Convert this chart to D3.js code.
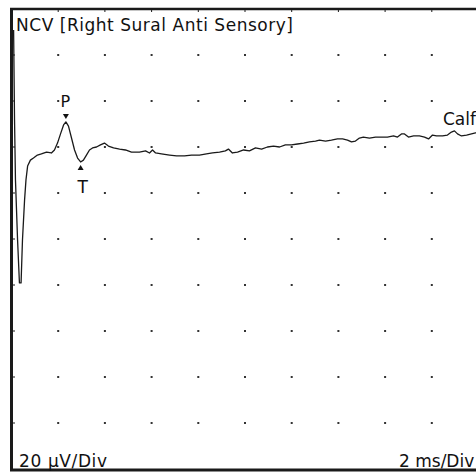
<!DOCTYPE html>
<html>
<head>
<meta charset="utf-8">
<script src="https://cdn.jsdelivr.net/npm/d3@7"></script>
<style>
  html, body { margin: 0; padding: 0; background: #fff; }
  svg { display: block; }
  text { font-family: "DejaVu Sans", Verdana, sans-serif; fill: #111; }
</style>
</head>
<body>
<svg id="chart" width="476" height="472"></svg>
<script>
// ---- data (time in ms, amplitude in µV) ----
const title = "NCV [Right Sural Anti Sensory]";
const traceName = "Calf";
const yScaleLabel = "20 µV/Div";
const xScaleLabel = "2 ms/Div";

const xGridTicks = [2, 4, 6, 8, 10, 12, 14, 16, 18];
const yGridTicks = [-80, -60, -40, -20, 0, 20, 40, 60, 80];

const timeMs = [0.09,0.13,0.17,0.26,0.34,0.41,0.47,0.56,0.62,0.69,
  0.81,0.94,1.11,1.28,1.50,1.71,1.84,1.97,2.10,2.23,
  2.33,2.44,2.57,2.70,2.83,2.96,3.08,3.21,3.34,3.47,
  3.64,3.81,3.98,4.15,4.37,4.63,4.88,5.14,5.48,5.74,
  5.91,6.04,6.17,6.42,6.77,7.07,7.41,7.71,8.05,8.35,
  8.61,8.91,9.16,9.29,9.46,9.68,9.94,10.19,10.45,10.71,
  10.96,11.22,11.48,11.73,11.99,12.25,12.51,12.76,13.02,13.19,
  13.45,13.70,13.96,14.18,14.39,14.56,14.73,14.90,15.07,15.33,
  15.59,15.85,16.10,16.36,16.53,16.70,16.83,17.00,17.22,17.47,
  17.69,17.86,18.03,18.20,18.46,18.67,18.84,18.97,19.10,19.27,
  19.49,19.70,19.87,20.0];

const amplitudeUv = [90.9,51.7,25.7,-0.4,-19.1,-19.1,-0.4,17.0,25.7,31.7,
  34.3,35.2,36.5,37.0,37.8,37.4,38.7,41.7,45.7,49.6,
  50.9,49.1,43.9,38.7,35.2,33.5,34.3,36.5,38.7,39.6,
  40.0,40.9,41.7,40.4,39.6,39.1,38.7,37.8,37.8,38.3,
  37.4,38.7,37.4,37.0,36.5,36.1,36.1,36.5,36.5,37.0,
  37.4,37.8,38.3,39.1,37.4,37.8,38.7,38.3,39.6,39.1,
  40.0,40.4,40.0,40.9,40.9,41.3,41.7,42.2,42.6,43.0,
  42.6,43.0,43.5,43.5,43.0,42.2,42.6,43.9,44.3,43.9,
  44.3,44.3,44.3,44.8,44.3,45.7,45.7,44.3,44.8,44.8,
  44.3,43.5,45.2,44.8,44.8,45.2,46.5,47.0,45.7,44.8,
  45.2,45.7,46.1,46.1];

const markerNames = ["P", "T"];
const markerTimes = [2.33, 2.96];
const markerAmps = [50.9, 33.5];

// ---- layout ----
const svg = d3.select("#chart");
const x = d3.scaleLinear().domain([0, 20]).range([11.5, 478.5]);
const y = d3.scaleLinear().domain([-100, 100]).range([469, 9]);

// grid dots
const dots = [];
xGridTicks.forEach(t => yGridTicks.forEach(v => dots.push([t, v])));
svg.append("g").selectAll("rect").data(dots).join("rect")
  .attr("x", d => x(d[0]) - 1).attr("y", d => y(d[1]) - 1)
  .attr("width", 2).attr("height", 2).attr("fill", "#333");

// frame
const frame = svg.append("g").attr("stroke", "#1a1a1a").attr("fill", "none");
frame.append("line").attr("x1", x(0)).attr("x2", x(0)).attr("y1", y(100) - 1).attr("y2", y(-100) + 1.5).attr("stroke-width", 3);
frame.append("line").attr("x1", x(0) - 1.5).attr("x2", 476).attr("y1", y(100)).attr("y2", y(100)).attr("stroke-width", 2.5);
frame.append("line").attr("x1", x(0) - 1.5).attr("x2", 476).attr("y1", y(-100) + 1).attr("y2", y(-100) + 1).attr("stroke-width", 3);
// small ticks on left and top borders
frame.selectAll(".yt").data(yGridTicks).join("line")
  .attr("x1", x(0)).attr("x2", x(0) + 3.5).attr("y1", d => y(d)).attr("y2", d => y(d)).attr("stroke-width", 1);
frame.selectAll(".xt").data(xGridTicks).join("line")
  .attr("x1", d => x(d)).attr("x2", d => x(d)).attr("y1", y(100)).attr("y2", y(100) + 3).attr("stroke-width", 1);

// trace
const pts = timeMs.map((t, i) => [t, amplitudeUv[i]]);
svg.append("path").datum(pts)
  .attr("fill", "none").attr("stroke", "#1a1a1a").attr("stroke-width", 1.3)
  .attr("stroke-linejoin", "round")
  .attr("d", d3.line().x(d => x(d[0])).y(d => y(d[1])));

// markers
markerNames.forEach((name, i) => {
  const mx = x(markerTimes[i]), my = y(markerAmps[i]);
  if (name === "P") {
    svg.append("path").attr("fill", "#111")
      .attr("d", `M${mx - 3},${my - 8} L${mx + 3},${my - 8} L${mx},${my - 3} Z`);
    svg.append("text").attr("x", mx - 0.5).attr("y", my - 15).attr("text-anchor", "middle")
      .attr("font-size", 16).text(name);
  } else {
    svg.append("path").attr("fill", "#111")
      .attr("d", `M${mx - 3},${my + 8} L${mx + 3},${my + 8} L${mx},${my + 3} Z`);
    svg.append("text").attr("x", mx + 2).attr("y", my + 31).attr("text-anchor", "middle")
      .attr("font-size", 17).text(name);
  }
});

// texts
svg.append("text").attr("x", 16).attr("y", 30.5).attr("font-size", 17)
  .attr("textLength", 277).attr("lengthAdjust", "spacing").text(title);
svg.append("text").attr("x", 443).attr("y", 125).attr("font-size", 17).text(traceName);
svg.append("text").attr("x", 19).attr("y", 466.5).attr("font-size", 17)
  .attr("textLength", 88).attr("lengthAdjust", "spacing").text(yScaleLabel);
svg.append("text").attr("x", 399).attr("y", 466.5).attr("font-size", 17).text(xScaleLabel);
</script>
</body>
</html>
